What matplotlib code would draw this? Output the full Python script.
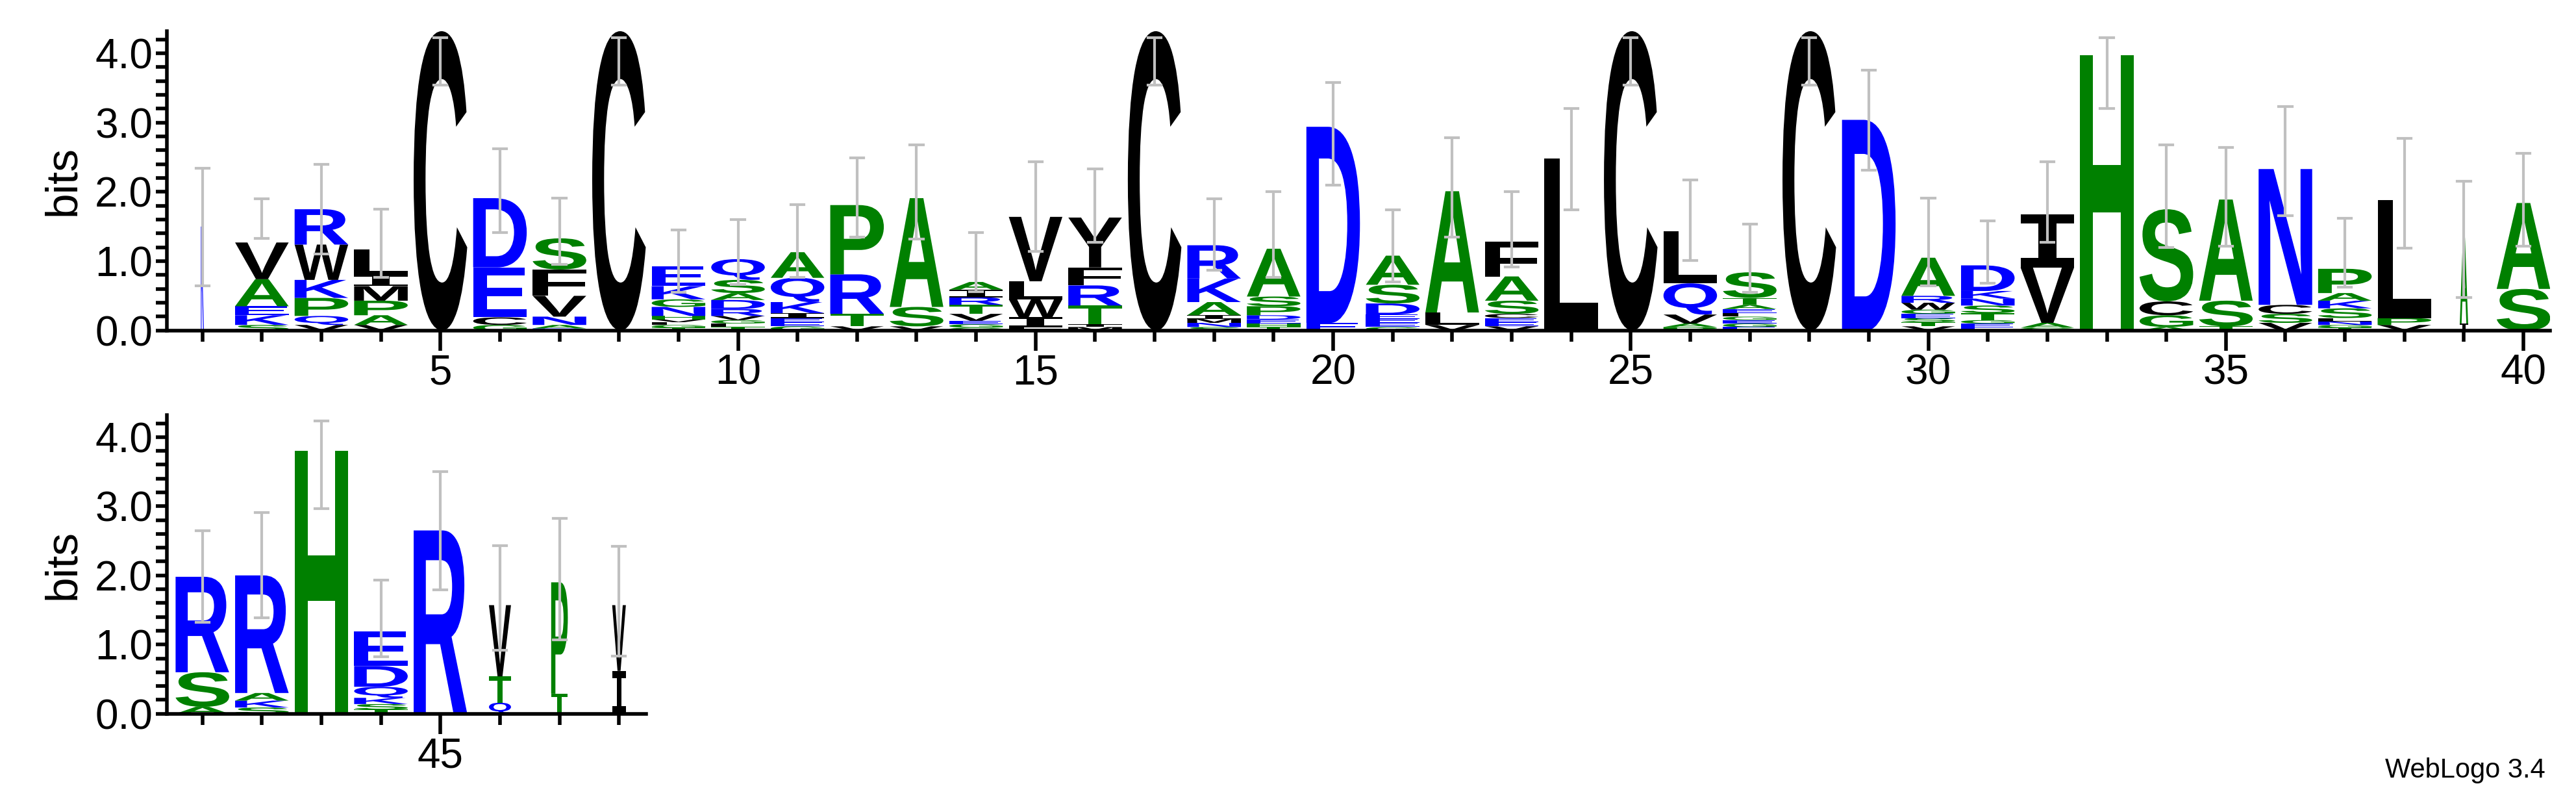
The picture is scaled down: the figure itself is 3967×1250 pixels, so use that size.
import matplotlib
matplotlib.use("Agg")
import matplotlib.pyplot as plt
from matplotlib.textpath import TextPath
from matplotlib.font_manager import FontProperties
from matplotlib.patches import PathPatch
from matplotlib.transforms import Affine2D
import numpy as np

# positions 1..48 ; letters stacked bottom -> top
positions = list(range(1, 49))
stack_letters = [
    "K", "SKEAV", "VQPKWR", "VAPMIL", "C", "GCED", "RANVFS", "C",
    "TGLVHNGKE", "TLGVRDASQ", "GEEIKQA", "VTRP", "VSA", "GGEVTRIA",
    "FIWLV", "MITRFY", "C", "SNMIAKR", "THEDPSA", "ED",
    "GEEEDSA", "VLA", "VEECSAF", "L", "C", "PAVQL",
    "EGEGLEATS", "C", "D", "VTSEGWRA",
    "EEGTSNKD", "GAVI", "H", "AGCS", "TSA", "VSCN", "TGNLSKAP", "VPL",
    "IA", "SA",
    "ASR", "SKAR", "H", "TSKQDE", "R", "QTV", "TP", "IV",
]
stack_heights = [
    [1.50], [0.08, 0.14, 0.13, 0.39, 0.53], [0.08, 0.13, 0.26, 0.26, 0.51, 0.51],
    [0.08, 0.14, 0.21, 0.21, 0.16, 0.37], [4.32], [0.08, 0.11, 0.72, 1.00],
    [0.03, 0.05, 0.12, 0.30, 0.38, 0.45], [4.32],
    [0.04, 0.04, 0.04, 0.04, 0.05, 0.13, 0.11, 0.19, 0.29],
    [0.05, 0.05, 0.05, 0.06, 0.10, 0.13, 0.10, 0.19, 0.30],
    [0.06, 0.06, 0.06, 0.07, 0.16, 0.35, 0.37], [0.06, 0.18, 0.57, 1.00],
    [0.06, 0.28, 1.57], [0.04, 0.05, 0.05, 0.10, 0.13, 0.11, 0.11, 0.11],
    [0.05, 0.14, 0.26, 0.26, 0.93], [0.05, 0.04, 0.27, 0.29, 0.26, 0.72], [4.32],
    [0.05, 0.06, 0.06, 0.05, 0.19, 0.34, 0.48], [0.05, 0.05, 0.06, 0.06, 0.13, 0.14, 0.69],
    [0.11, 2.83],
    [0.05, 0.06, 0.06, 0.06, 0.16, 0.27, 0.42], [0.08, 0.18, 1.75],
    [0.06, 0.06, 0.06, 0.06, 0.19, 0.35, 0.50], [2.48], [4.32],
    [0.05, 0.05, 0.13, 0.45, 0.75],
    [0.05, 0.05, 0.05, 0.05, 0.05, 0.06, 0.06, 0.10, 0.37], [4.32], [3.04],
    [0.06, 0.06, 0.06, 0.06, 0.06, 0.10, 0.10, 0.55],
    [0.05, 0.05, 0.05, 0.10, 0.11, 0.10, 0.11, 0.37], [0.04, 0.07, 0.80, 0.77],
    [3.97], [0.05, 0.17, 0.20, 1.33], [0.06, 0.37, 1.46], [0.11, 0.13, 0.13, 1.96],
    [0.04, 0.04, 0.05, 0.05, 0.14, 0.11, 0.11, 0.35], [0.08, 0.10, 1.70],
    [0.10, 1.24], [0.60, 1.24],
    [0.10, 0.50, 1.38], [0.09, 0.10, 0.11, 1.70], [3.80],
    [0.06, 0.08, 0.09, 0.16, 0.30, 0.50], [2.65], [0.16, 0.38, 1.03],
    [0.29, 1.61], [0.62, 0.95],
]
col_width = [0.05] + [0.9] * 37 + [0.14, 0.9] + [0.9] * 5 + [0.37, 0.28, 0.23]
err_low = [0.64, 1.33, 1.10, 0.77, 3.54, 1.41, 0.95, 3.54, 0.55, 0.66,
           0.77, 1.35, 1.32, 0.56, 1.14, 1.27, 3.54, 0.87, 0.77, 2.10,
           0.70, 1.35, 0.92, 1.74, 3.54, 1.01, 0.55, 3.54, 2.31, 0.64,
           0.68, 1.27, 3.20, 1.20, 1.22, 1.66, 0.63, 1.19, 0.48, 1.22,
           1.32, 1.39, 2.97, 0.82, 1.79, 0.92, 1.07, 0.83]
err_high = [2.34, 1.90, 2.40, 1.75, 4.23, 2.62, 1.91, 4.23, 1.45, 1.60,
            1.82, 2.49, 2.68, 1.41, 2.44, 2.33, 4.23, 1.90, 2.00, 3.58,
            1.74, 2.78, 2.00, 3.20, 4.23, 2.17, 1.54, 4.23, 3.76, 1.91,
            1.58, 2.44, 4.23, 2.68, 2.64, 3.23, 1.62, 2.77, 2.15, 2.56,
            2.65, 2.91, 4.23, 1.93, 3.50, 2.43, 2.82, 2.42]

GREEN, BLUE, BLACK = "#008000", "#0000ff", "#000000"
color_map = {}
for c in "ASTGHP":
    color_map[c] = GREEN
for c in "DERKNQ":
    color_map[c] = BLUE
for c in "CVLFWYIM":
    color_map[c] = BLACK

fp = FontProperties(family="Liberation Sans", weight="bold")
fp_i = FontProperties(family="DejaVu Sans Mono", weight="bold")

W, H = 3967, 1250
fig = plt.figure(figsize=(W / 100, H / 100), dpi=100)
ax1 = fig.add_axes([0.0647, 0.593, 0.9253, 0.3686])
ax2 = fig.add_axes([0.0647, 0.121, 0.1860, 0.368])


def draw_letter(ax, ch, xc, y0, w, h):
    if h <= 0:
        return
    tp = TextPath((0, 0), ch, size=1, prop=fp_i if ch == "I" else fp)
    ext = tp.get_extents()
    tr = (Affine2D().translate(-ext.x0, -ext.y0)
          .scale(w / ext.width, h / ext.height)
          .translate(xc - w / 2, y0))
    path = tr.transform_path(tp)
    ax.add_patch(PathPatch(path, facecolor=color_map.get(ch, BLACK), edgecolor="none", lw=0))


for i, p in enumerate(positions):
    ax = ax1 if p <= 40 else ax2
    y = 0.0
    for ch, h in zip(stack_letters[i], stack_heights[i]):
        draw_letter(ax, ch, p, y, col_width[i], h)
        y += h
    ax.plot([p, p], [err_low[i], err_high[i]], color="#c0c0c0", lw=3, zorder=5, solid_capstyle="butt")
    ax.plot([p - 0.11, p + 0.11], [err_low[i]] * 2, color="#c0c0c0", lw=3, zorder=5)
    ax.plot([p - 0.11, p + 0.11], [err_high[i]] * 2, color="#c0c0c0", lw=3, zorder=5)

for ax, lo, hi in ((ax1, 0.4, 40.45), (ax2, 40.4, 48.45)):
    ax.set_xlim(lo, hi)
    ax.set_ylim(0, 4.32)
    for s in ("top", "right"):
        ax.spines[s].set_visible(False)
    for s in ("left", "bottom"):
        ax.spines[s].set_linewidth(4)
    ax.set_yticks(np.arange(0, 4.01, 1.0))
    ax.set_yticklabels([f"{v:.1f}" for v in np.arange(0, 4.01, 1.0)])
    ax.set_yticks(np.arange(0, 4.31, 0.2), minor=True)
    ints = [k for k in range(int(np.ceil(lo)), int(hi) + 1)]
    majors = [k for k in ints if k % 5 == 0]
    ax.set_xticks(majors)
    ax.set_xticks(ints, minor=True)
    ax.tick_params(axis="y", which="both", length=12, width=4, labelsize=46, direction="out")
    ax.tick_params(axis="x", which="major", length=22, width=4, labelsize=46)
    ax.tick_params(axis="x", which="minor", length=12, width=4)
    ax.set_ylabel("bits", fontsize=50, labelpad=12)
    for lab in ax.get_xticklabels() + ax.get_yticklabels():
        lab.set_family("Liberation Sans")
    ax.yaxis.label.set_family("Liberation Sans")

fig.text(0.988, 0.035, "WebLogo 3.4", ha="right", va="bottom", fontsize=30, family="Liberation Sans")
fig.savefig("out.png", dpi=100)
